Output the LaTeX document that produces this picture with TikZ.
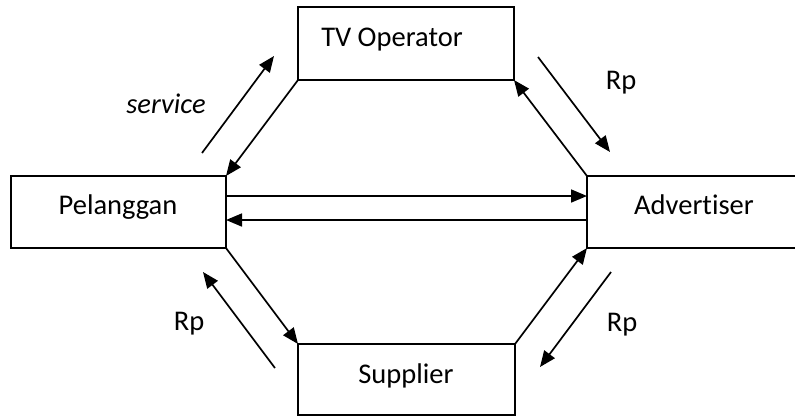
\documentclass[tikz,border=0pt]{standalone}
\usepackage{fontspec}
\setmainfont{Carlito}[Ligatures=NoCommon]
\usetikzlibrary{arrows.meta}
\begin{document}
\begin{tikzpicture}[x=1pt,y=-1pt,
  box/.style={draw, line width=2pt, minimum width=#1, minimum height=72pt, inner sep=0pt, outer sep=0pt},
  txt/.style={inner sep=0pt, anchor=base, font=\fontsize{28.5}{34}\selectfont},
  conn/.style={line width=1.7pt, -{Triangle[length=16pt,width=13pt]}}]
\fill[white] (0,0) rectangle (795,416);
\clip (0,0) rectangle (795,416);
% boxes
\node[box=216pt, minimum height=73pt] (tv) at (406,43.5) {};
\node[box=215pt] (pel) at (118.5,212) {};
\node[box=213pt] (adv) at (693.5,212) {};
\node[box=217pt, minimum height=71pt] (sup) at (406.5,379.5) {};
% texts
\node[txt] (tvt) at (392,46) {TV Operator};
\node[txt] (pelt) at (118,214) {Pelanggan};
\node[txt] (advt) at (694,214) {Advertiser};
\node[txt] (supt) at (406,383) {Supplier};
\node[txt, font=\fontsize{28.5}{34}\selectfont\itshape] (srv) at (166,113) {service};
\node[txt] (rp1) at (621,89) {Rp};
\node[txt] (rp2) at (189,330) {Rp};
\node[txt] (rp3) at (622,331) {Rp};
% connectors between boxes
\draw[conn] (tv.south west) -- (pel.north east);
\draw[conn] (adv.north west) -- (tv.south east);
\draw[conn] (pel.south east) -- (sup.north west);
\draw[conn] (sup.north east) -- (adv.south west);
\draw[conn] ([yshift=16pt]pel.east) -- ([yshift=16pt]adv.west);
\draw[conn] ([yshift=-8pt]adv.west) -- ([yshift=-8pt]pel.east);
% free flow arrows
\coordinate (s1) at (202,153); \coordinate (s2) at (274,56);
\coordinate (a1) at (538,57);  \coordinate (a2) at (610,152);
\coordinate (b1) at (275,368); \coordinate (b2) at (203,272);
\coordinate (c1) at (611,272); \coordinate (c2) at (540,367);
\draw[conn] (s1) -- (s2);
\draw[conn] (a1) -- (a2);
\draw[conn] (b1) -- (b2);
\draw[conn] (c1) -- (c2);
\end{tikzpicture}
\end{document}
